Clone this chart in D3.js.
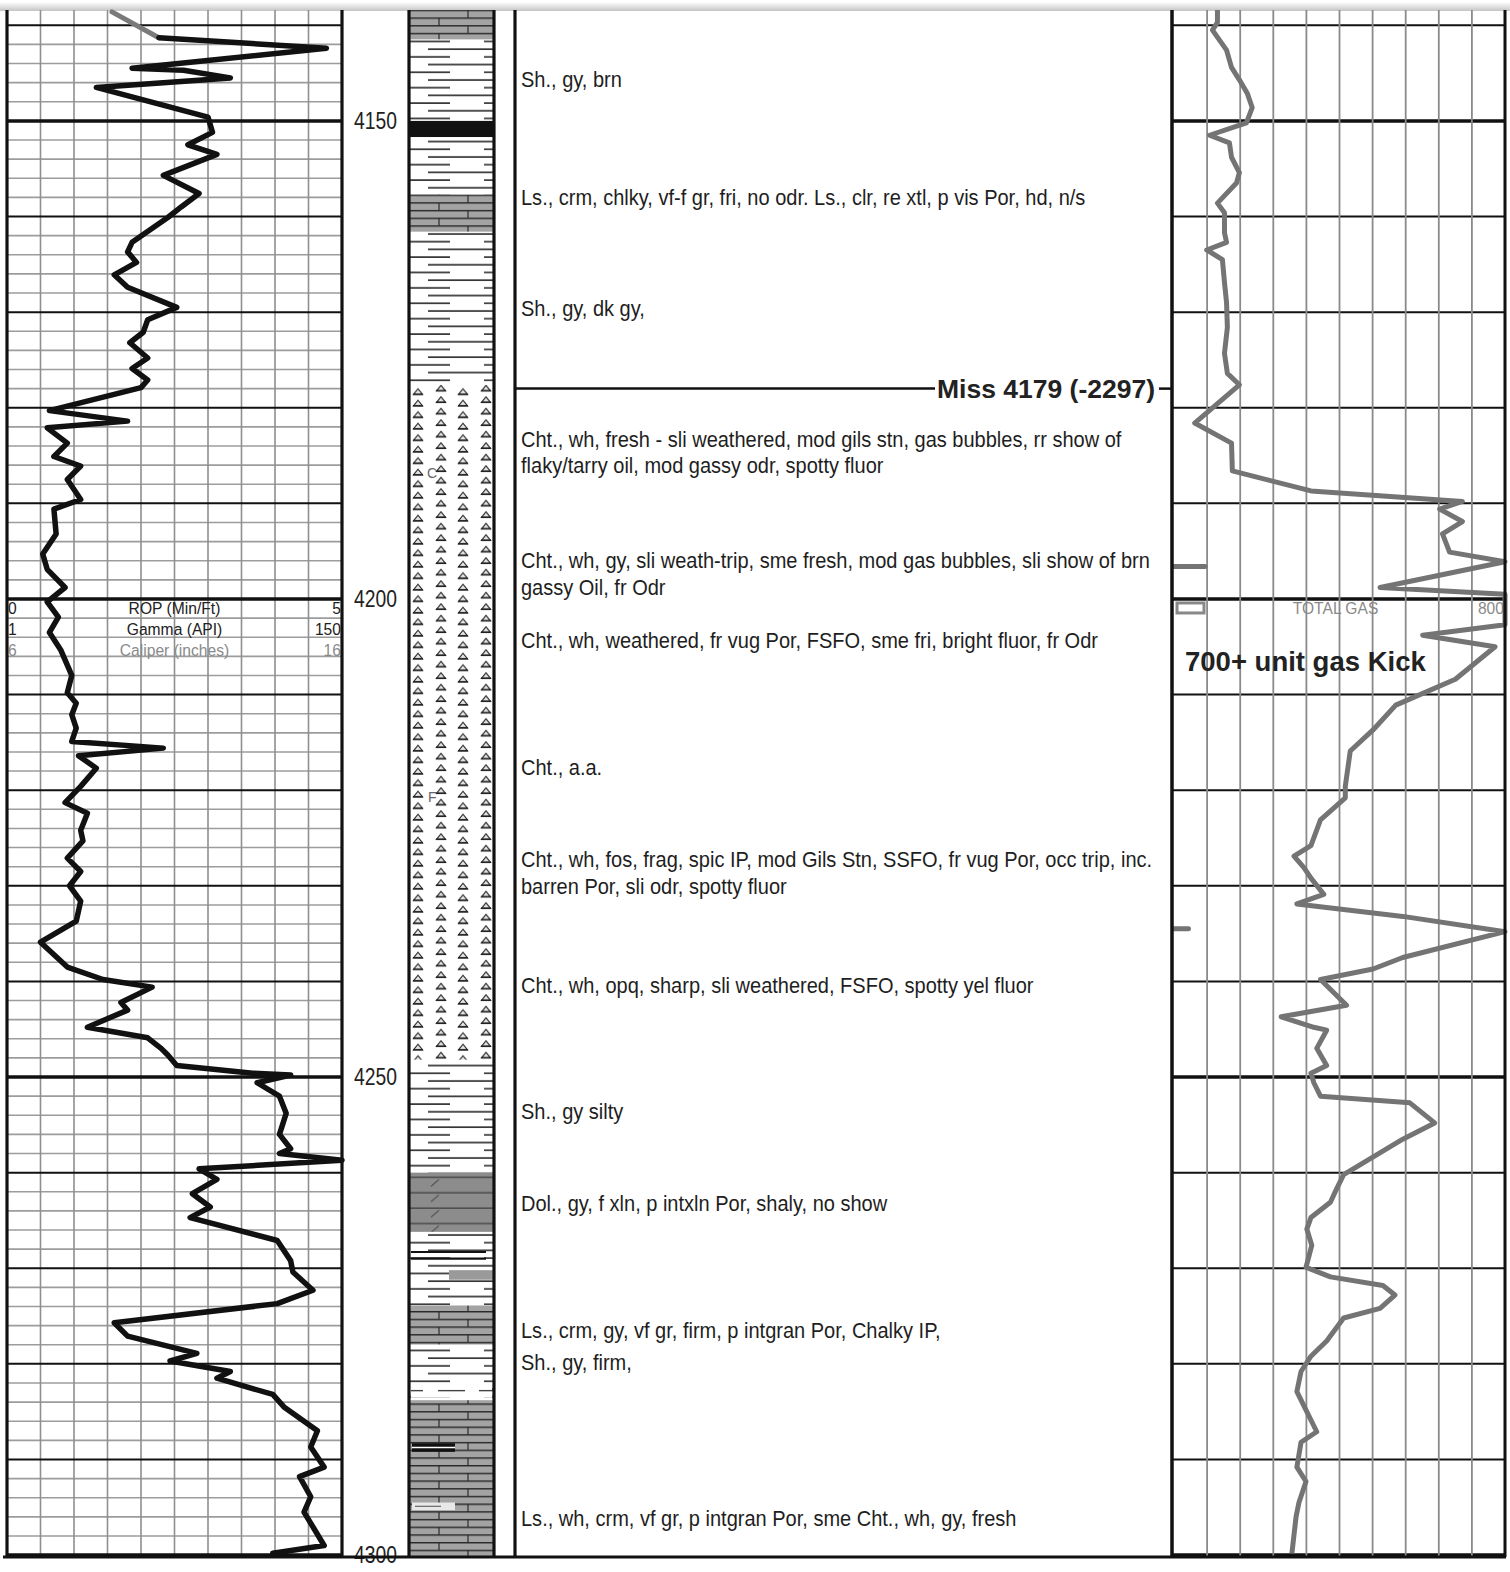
<!DOCTYPE html>
<html>
<head>
<meta charset="utf-8">
<script src="https://cdn.jsdelivr.net/npm/d3@7"></script>
<style>
html, body { margin: 0; padding: 0; background: #fff; }
svg { display: block; }
.sans { font-family: "Liberation Sans", Arial, sans-serif; }
</style>
</head>
<body>
<svg id="log" width="1510" height="1572"></svg>
<script>
const depthTicks = [4150, 4200, 4250, 4300];

const gammaDepth = [4138.6,4141.3,4142.4,4144.5,4144.7,4145.5,4146.5,4149.6,4151.2,4152.5,
    4153.5,4155.7,4157.6,4159.0,4160.1,4162.7,4163.7,4164.8,4166.1,4167.4,
    4169.5,4170.8,4172.1,4173.2,4174.8,4175.9,4177.1,4177.9,4180.3,4181.4,
    4182.1,4183.7,4185.1,4186.1,4187.5,4189.6,4190.6,4193.2,4195.3,4196.9,
    4198.8,4200.3,4201.9,4203.5,4205.3,4208.0,4209.8,4210.9,4212.1,4213.5,
    4214.9,4215.6,4216.4,4217.7,4219.6,4221.3,4222.4,4224.2,4225.3,4227.1,
    4228.5,4230.0,4231.6,4233.7,4235.9,4238.5,4239.8,4240.6,4242.2,4243.0,
    4244.8,4245.9,4247.0,4247.7,4248.8,4249.6,4249.8,4250.6,4252.0,4253.8,
    4256.0,4257.5,4258.0,4258.7,4259.6,4260.7,4262.2,4263.6,4264.7,4267.1,
    4269.2,4270.4,4272.3,4273.7,4275.7,4277.1,4278.9,4279.7,4280.8,4281.5,
    4283.2,4284.5,4287.0,4288.7,4290.8,4291.8,4293.9,4295.5,4299.0,4299.8];
const gammaApi = [47,68,143,56,79,100,40,90,92,81,
    94,70,86,78,72,56,54,58,48,54,
    76,63,61,55,63,56,63,60,19,54,
    18,27,21,33,27,33,21,22,16,18,
    26,18,23,19,24,29,27,31,29,31,
    29,70,32,40,33,26,36,33,34,27,
    33,28,33,31,15,27,43,65,51,54,
    36,63,69,72,76,110,127,112,122,125,
    122,127,122,150,86,94,83,91,82,121,
    127,128,137,121,48,54,85,73,100,94,
    119,124,139,136,142,131,136,133,142,119];

const gasDepth = [4138.4,4139.7,4140.5,4142.6,4144.4,4145.7,4147.1,4148.6,4150.2,4151.5,
    4152.3,4153.8,4155.4,4156.5,4158.6,4159.6,4161.7,4162.7,4163.5,4164.5,
    4166.9,4169.0,4171.6,4174.3,4176.4,4177.6,4181.6,4183.7,4186.6,4188.7,
    4189.8,4190.6,4191.9,4193.2,4195.1,4196.1,4198.8,4199.5,4202.7,4203.8,
    4205.0,4208.4,4211.1,4213.7,4215.9,4219.6,4220.8,4223.1,4225.8,4226.9,
    4228.1,4229.2,4230.9,4231.9,4233.2,4234.8,4237.5,4238.7,4239.8,4242.5,
    4243.7,4244.8,4245.1,4247.0,4248.8,4249.6,4250.6,4252.0,4252.7,4254.8,
    4256.5,4260.2,4261.7,4263.1,4264.7,4265.9,4267.6,4269.9,4270.9,4271.8,
    4272.8,4274.2,4275.2,4277.6,4279.2,4280.8,4282.9,4284.4,4287.1,4288.2,
    4290.8,4292.3,4294.5,4296.0,4299.8];
const gasUnits = [105,105,93,127,139,158,177,189,175,86,
    134,139,158,151,105,122,122,127,79,117,
    122,127,129,122,129,158,50,139,141,331,
    697,642,697,649,666,800,498,800,800,601,
    776,680,536,481,426,414,414,354,331,290,
    314,331,362,297,553,800,553,481,354,417,
    259,338,369,345,369,331,338,354,570,630,
    553,410,393,378,331,321,333,319,378,505,
    534,498,410,369,331,307,297,314,345,307,
    297,319,302,295,285];

// wrapped (second scale) gas stubs at the left edge of the gas track
const gasWrapDepth = [4196.6, 4234.5];
const gasWrapUnits = [75, 35];

const lithTop  = [4138.4,4141.5,4150.0,4151.7,4157.7,4161.6,4177.6,4248.2,4260.0,4266.2,4273.9,4278.0,4283.8];
const lithBase = [4141.5,4150.0,4151.7,4157.7,4161.6,4177.6,4248.2,4260.0,4266.2,4273.9,4278.0,4283.8,4300.2];
const lithType = ['ls','sh','coal','sh','ls','sh','cht','sh','dol','sh','ls','sh','ls'];

const descDepth = [4145.7,4158.0,4169.6,4183.3,4196.0,4204.3,4217.6,4227.3,4240.4,4253.6,4263.2,4276.5,4279.9,4296.2];
const descText = [
    ["Sh., gy, brn"],
    ["Ls., crm, chlky, vf-f gr, fri, no odr.  Ls., clr, re xtl, p vis Por, hd, n/s"],
    ["Sh., gy, dk gy,"],
    ["Cht., wh, fresh - sli weathered, mod gils stn, gas bubbles, rr show of", "flaky/tarry oil, mod gassy odr, spotty fluor"],
    ["Cht., wh, gy, sli weath-trip, sme fresh, mod gas bubbles, sli show of brn", "gassy Oil, fr Odr"],
    ["Cht., wh, weathered, fr vug Por, FSFO, sme fri, bright fluor, fr Odr"],
    ["Cht., a.a."],
    ["Cht., wh, fos, frag, spic IP, mod Gils Stn, SSFO, fr vug Por, occ trip, inc.", "barren Por, sli odr, spotty fluor"],
    ["Cht., wh, opq, sharp, sli weathered, FSFO, spotty yel  fluor"],
    ["Sh., gy silty"],
    ["Dol., gy, f xln, p intxln Por, shaly, no show"],
    ["Ls., crm, gy, vf gr,  firm, p intgran Por, Chalky IP,"],
    ["Sh., gy, firm,"],
    ["Ls., wh, crm, vf gr, p intgran Por, sme Cht., wh, gy, fresh"]
];

const topName = "Miss";
const topLabelDepth = 4179;
const topSubsea = -2297;
const topLineDepth = 4178;

const curveLabels = ["ROP (Min/Ft)", "Gamma (API)", "Caliper (inches)"];
const curveMin = ["0", "1", "6"];
const curveMax = ["5", "150", "16"];

// ---- layout ----
const svg = d3.select('#log');
const yTop = 10, yBottom = 1557;
const trackL = {x0: 7, x1: 342};
const lith = {x0: 409, x1: 494};
const descX0 = 515, descX1 = 1172;
const gasT = {x0: 1172, x1: 1505};

const y = d3.scaleLinear().domain([4138.4, 4300.2]).range([yTop, yBottom]);
const xGamma = d3.scaleLinear().domain([0, 150]).range([trackL.x0, trackL.x1]);
const xGas = d3.scaleLinear().domain([0, 800]).range([gasT.x0 + 2, gasT.x1]);

// narrow text = Liberation Sans squeezed horizontally
function narrowText(g, x, yy, txt, sx, anchor) {
    return g.append('text').attr('transform', `translate(${x},${yy}) scale(${sx},1)`)
        .attr('text-anchor', anchor || 'start').text(txt);
}

const defs = svg.append('defs');

// scanner shadow at top
const grad = defs.append('linearGradient').attr('id', 'shade').attr('x1', 0).attr('x2', 0).attr('y1', 0).attr('y2', 1);
grad.append('stop').attr('offset', '0%').attr('stop-color', '#ffffff');
grad.append('stop').attr('offset', '100%').attr('stop-color', '#c4c4c4');
svg.append('rect').attr('x', 0).attr('y', 2).attr('width', 1510).attr('height', yTop - 1).attr('fill', 'url(#shade)');

// patterns for lithology
const shPat = defs.append('pattern').attr('id', 'shale').attr('patternUnits', 'userSpaceOnUse')
    .attr('x', lith.x0).attr('y', 0).attr('width', 85).attr('height', 15.4);
shPat.append('rect').attr('width', 85).attr('height', 15.4).attr('fill', '#fff');
shPat.append('line').attr('x1', 19).attr('x2', 85).attr('y1', 3).attr('y2', 3).attr('stroke', '#333').attr('stroke-width', 1.6);
shPat.append('line').attr('x1', 0).attr('x2', 41).attr('y1', 10.7).attr('y2', 10.7).attr('stroke', '#333').attr('stroke-width', 1.6);
shPat.append('line').attr('x1', 75).attr('x2', 85).attr('y1', 10.7).attr('y2', 10.7).attr('stroke', '#333').attr('stroke-width', 1.6);

const lsPat = defs.append('pattern').attr('id', 'lime').attr('patternUnits', 'userSpaceOnUse')
    .attr('x', lith.x0).attr('y', 2).attr('width', 85).attr('height', 15.4);
lsPat.append('rect').attr('width', 85).attr('height', 15.4).attr('fill', '#a3a3a3');
lsPat.append('line').attr('x1', 0).attr('x2', 85).attr('y1', 0.7).attr('y2', 0.7).attr('stroke', '#2a2a2a').attr('stroke-width', 1.4);
lsPat.append('line').attr('x1', 0).attr('x2', 85).attr('y1', 8.4).attr('y2', 8.4).attr('stroke', '#2a2a2a').attr('stroke-width', 1.4);
lsPat.append('line').attr('x1', 30).attr('x2', 30).attr('y1', 0.7).attr('y2', 8.4).attr('stroke', '#2a2a2a').attr('stroke-width', 1.2);
lsPat.append('line').attr('x1', 59).attr('x2', 59).attr('y1', 8.4).attr('y2', 15.4).attr('stroke', '#2a2a2a').attr('stroke-width', 1.2);

const chPat = defs.append('pattern').attr('id', 'chert').attr('patternUnits', 'userSpaceOnUse')
    .attr('x', lith.x0).attr('y', y(4177.6)).attr('width', 85).attr('height', 11.5);
chPat.append('rect').attr('width', 85).attr('height', 11.5).attr('fill', '#fff');
[[9, 9.5], [32, 6], [54, 9.5], [77, 6]].forEach(([cx, cy]) => {
    chPat.append('path').attr('d', `M${cx - 4.5},${cy} L${cx + 4.5},${cy} L${cx},${cy - 5.5} Z`)
        .attr('fill', '#e4e4e4').attr('stroke', '#333').attr('stroke-width', 1.2);
    chPat.append('line').attr('x1', cx - 5).attr('x2', cx + 5).attr('y1', cy).attr('y2', cy).attr('stroke', '#222').attr('stroke-width', 1.6);
});

const dolPat = defs.append('pattern').attr('id', 'dolo').attr('patternUnits', 'userSpaceOnUse')
    .attr('x', lith.x0).attr('y', 3).attr('width', 85).attr('height', 15.4);
dolPat.append('rect').attr('width', 85).attr('height', 15.4).attr('fill', '#8c8c8c');
dolPat.append('line').attr('x1', 0).attr('x2', 85).attr('y1', 4).attr('y2', 4).attr('stroke', '#3a3a3a').attr('stroke-width', 1.3);
dolPat.append('line').attr('x1', 22).attr('x2', 30).attr('y1', 13).attr('y2', 6).attr('stroke', '#555').attr('stroke-width', 1.2);

const lithFill = {sh: 'url(#shale)', ls: 'url(#lime)', cht: 'url(#chert)', dol: 'url(#dolo)', coal: '#111'};

// ---- gamma / ROP track grid ----
const fineDepths = d3.range(4140, 4301, 2);
const gL = svg.append('g');
gL.selectAll('.hf').data(fineDepths.filter(d => d % 10 !== 0)).enter().append('line')
    .attr('x1', trackL.x0).attr('x2', trackL.x1).attr('y1', d => y(d)).attr('y2', d => y(d))
    .attr('stroke', '#9c9c9c').attr('stroke-width', 1.6);
gL.selectAll('.vf').data(d3.range(15, 150, 15)).enter().append('line')
    .attr('x1', d => xGamma(d)).attr('x2', d => xGamma(d)).attr('y1', yTop).attr('y2', yBottom)
    .attr('stroke', '#8f8f8f').attr('stroke-width', 1.6);

const tenDepths = d3.range(4140, 4301, 10);
[gL, svg.append('g')].forEach((g, i) => {
    const t = i === 0 ? trackL : gasT;
    g.selectAll('.h10').data(tenDepths).enter().append('line')
        .attr('x1', t.x0).attr('x2', t.x1).attr('y1', d => y(d)).attr('y2', d => y(d))
        .attr('stroke', '#111').attr('stroke-width', d => d % 50 === 0 ? 3.5 : 2);
});

// gas grid verticals
svg.append('g').selectAll('line').data(d3.range(80, 800, 80)).enter().append('line')
    .attr('x1', d => xGas(d)).attr('x2', d => xGas(d)).attr('y1', yTop).attr('y2', yBottom)
    .attr('stroke', '#8a8a8a').attr('stroke-width', 1.8);

// header labels
const hdr = svg.append('g').attr('class', 'sans').attr('font-size', 17);
curveLabels.forEach((lab, i) => {
    const yy = y(4200) + 15 + i * 21;
    const col = i === 2 ? '#8a8a8a' : '#222';
    narrowText(hdr, (trackL.x0 + trackL.x1) / 2, yy, lab, 0.92, 'middle').attr('fill', col);
    narrowText(hdr, trackL.x0 + 1, yy, curveMin[i], 0.92).attr('fill', col);
    narrowText(hdr, trackL.x1 - 1, yy, curveMax[i], 0.92, 'end').attr('fill', col);
});
narrowText(hdr, xGas(400) - 4, y(4200) + 15, 'TOTAL GAS', 0.92, 'middle').attr('fill', '#8a8a8a');
narrowText(hdr, gasT.x1 - 1, y(4200) + 15, '800', 0.92, 'end').attr('fill', '#8a8a8a');
hdr.append('rect').attr('x', gasT.x0 + 5).attr('y', y(4200) + 4).attr('width', 27).attr('height', 10)
    .attr('fill', '#fff').attr('stroke', '#888').attr('stroke-width', 3);

// ---- curves ----
const line = d3.line().x(d => d[0]).y(d => d[1]).curve(d3.curveLinear);

const gammaPts = gammaDepth.map((d, i) => [xGamma(gammaApi[i]), y(d)]);
svg.append('path').attr('d', line(gammaPts.slice(0, 2))).attr('fill', 'none')
    .attr('stroke', '#7a7a7a').attr('stroke-width', 5).attr('stroke-linecap', 'round');
svg.append('path').attr('d', line(gammaPts.slice(1))).attr('fill', 'none')
    .attr('stroke', '#111').attr('stroke-width', 5.5).attr('stroke-linejoin', 'round').attr('stroke-linecap', 'round');

defs.append('clipPath').attr('id', 'gasClip').append('rect')
    .attr('x', gasT.x0).attr('y', yTop).attr('width', gasT.x1 - gasT.x0 + 3).attr('height', yBottom - yTop);
const gasPts = gasDepth.map((d, i) => [xGas(gasUnits[i]), y(d)]);
svg.append('path').attr('d', line(gasPts)).attr('fill', 'none').attr('clip-path', 'url(#gasClip)')
    .attr('stroke', '#747474').attr('stroke-width', 5).attr('stroke-linejoin', 'round');
svg.append('g').selectAll('line').data(gasWrapDepth).enter().append('line')
    .attr('x1', xGas(0)).attr('x2', (d, i) => xGas(gasWrapUnits[i])).attr('y1', d => y(d)).attr('y2', d => y(d))
    .attr('stroke', '#747474').attr('stroke-width', 5).attr('stroke-linecap', 'round');

svg.append('text').attr('class', 'sans').attr('x', gasT.x0 + 13).attr('y', y(4207.5)).attr('font-size', 27.5)
    .attr('font-weight', 'bold').attr('fill', '#222').text('700+ unit gas Kick');

// ---- lithology column ----
const gLith = svg.append('g');
gLith.selectAll('rect').data(lithType).enter().append('rect')
    .attr('x', lith.x0).attr('width', lith.x1 - lith.x0)
    .attr('y', (d, i) => y(lithTop[i])).attr('height', (d, i) => y(lithBase[i]) - y(lithTop[i]))
    .attr('fill', d => lithFill[d]);
// small inclusions inside intervals
gLith.append('line').attr('x1', lith.x0 + 2).attr('x2', lith.x0 + 77).attr('y1', y(4268.3)).attr('y2', y(4268.3)).attr('stroke', '#111').attr('stroke-width', 2.2);
gLith.append('line').attr('x1', lith.x0 + 2).attr('x2', lith.x0 + 77).attr('y1', y(4269.0)).attr('y2', y(4269.0)).attr('stroke', '#111').attr('stroke-width', 2.2);
gLith.append('rect').attr('x', lith.x0 + 40).attr('width', 44).attr('y', y(4270.2)).attr('height', y(4271.2) - y(4270.2)).attr('fill', '#9a9a9a');
gLith.append('rect').attr('x', lith.x0 + 3).attr('width', 43).attr('y', y(4288.3)).attr('height', y(4289.2) - y(4288.3)).attr('fill', '#111');
gLith.append('line').attr('x1', lith.x0 + 3).attr('x2', lith.x0 + 46).attr('y1', y(4288.75)).attr('y2', y(4288.75)).attr('stroke', '#fff').attr('stroke-width', 1.5);
gLith.append('rect').attr('x', lith.x0 + 3).attr('width', 43).attr('y', y(4294.5)).attr('height', y(4295.3) - y(4294.5)).attr('fill', '#e8e8e8');
gLith.append('line').attr('x1', lith.x0 + 6).attr('x2', lith.x0 + 32).attr('y1', y(4294.9)).attr('y2', y(4294.9)).attr('stroke', '#666').attr('stroke-width', 1.2);
// chert markers
const mk = gLith.append('g').attr('class', 'sans').attr('font-size', 14).attr('fill', '#666');
mk.append('text').attr('x', lith.x0 + 18).attr('y', y(4186.8) + 5).text('C');
mk.append('text').attr('x', lith.x0 + 19).attr('y', y(4220.7) + 5).text('F');
gLith.append('rect').attr('x', lith.x0 + 2).attr('width', lith.x1 - lith.x0 - 4).attr('y', y(4282.8) - 7).attr('height', 14).attr('fill', '#fff');
mk.append('text').attr('x', lith.x0 + 19).attr('y', y(4282.8) + 5).text('C');
mk.append('text').attr('x', lith.x0 + 58).attr('y', y(4282.8) + 5).text('P');
gLith.append('line').attr('x1', lith.x0 + 29).attr('x2', lith.x0 + 56).attr('y1', y(4282.8)).attr('y2', y(4282.8)).attr('stroke', '#444').attr('stroke-width', 1.4);
gLith.append('line').attr('x1', lith.x0 + 2).attr('x2', lith.x0 + 14).attr('y1', y(4282.8)).attr('y2', y(4282.8)).attr('stroke', '#444').attr('stroke-width', 1.4);
gLith.append('line').attr('x1', lith.x0 + 70).attr('x2', lith.x0 + 84).attr('y1', y(4282.8)).attr('y2', y(4282.8)).attr('stroke', '#444').attr('stroke-width', 1.4);

// ---- depth labels ----
const gDepth = svg.append('g').attr('class', 'sans').attr('font-size', 23).attr('fill', '#222');
depthTicks.forEach(d => narrowText(gDepth, 397, y(d) + 8, d, 0.84, 'end'));

// ---- descriptions ----
const gDesc = svg.append('g').attr('class', 'sans').attr('font-size', 22).attr('fill', '#1e1e1e');
descText.forEach((lines, i) => {
    lines.forEach((t, j) => {
        narrowText(gDesc, 521, y(descDepth[i]) + 7.5 + j * 26.5, t, 0.91);
    });
});

// formation top
svg.append('line').attr('x1', descX0).attr('x2', 935).attr('y1', y(topLineDepth)).attr('y2', y(topLineDepth))
    .attr('stroke', '#111').attr('stroke-width', 2.5);
svg.append('text').attr('class', 'sans').attr('x', 937).attr('y', y(topLineDepth) + 9).attr('font-size', 26.5)
    .attr('font-weight', 'bold').attr('fill', '#222').text(`${topName} ${topLabelDepth} (${topSubsea})`);
svg.append('line').attr('x1', 1159).attr('x2', descX1).attr('y1', y(topLineDepth)).attr('y2', y(topLineDepth))
    .attr('stroke', '#111').attr('stroke-width', 2.5);

// ---- frame lines ----
const frame = svg.append('g').attr('stroke', '#111');
[trackL.x0, trackL.x1, lith.x0, lith.x1, descX0].forEach(x => {
    frame.append('line').attr('x1', x).attr('x2', x).attr('y1', yTop).attr('y2', yBottom).attr('stroke-width', 3.2);
});
frame.append('line').attr('x1', descX1).attr('x2', descX1).attr('y1', yTop).attr('y2', yBottom).attr('stroke-width', 3.5);
frame.append('line').attr('x1', gasT.x1).attr('x2', gasT.x1).attr('y1', yTop).attr('y2', yBottom).attr('stroke-width', 3);
frame.append('line').attr('x1', 3).attr('x2', gasT.x1 + 1).attr('y1', yBottom).attr('y2', yBottom).attr('stroke-width', 3);
</script>
</body>
</html>
